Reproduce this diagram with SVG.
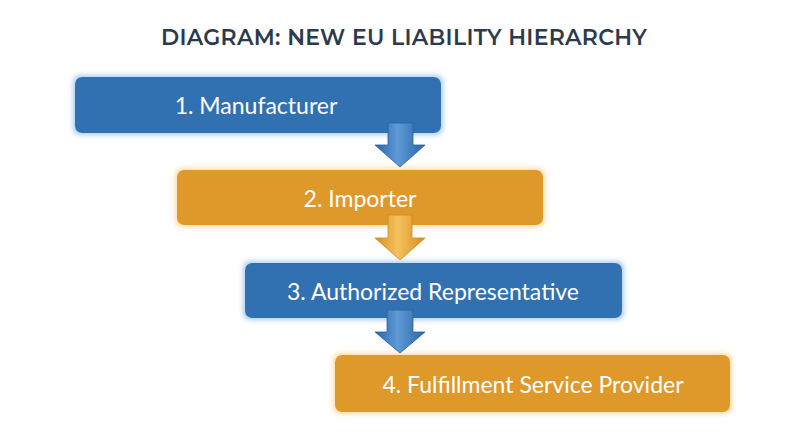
<svg xmlns="http://www.w3.org/2000/svg" width="800" height="447" viewBox="0 0 800 447">
  <defs>
    <filter id="glowBlue" x="-10%" y="-30%" width="120%" height="160%">
      <feMorphology in="SourceAlpha" operator="dilate" radius="2" result="d"/>
      <feGaussianBlur in="d" stdDeviation="2.5" result="b"/>
      <feFlood flood-color="#a9cdef"/>
      <feComposite in2="b" operator="in" result="g"/>
      <feMerge><feMergeNode in="g"/><feMergeNode in="SourceGraphic"/></feMerge>
    </filter>
    <filter id="glowOrange" x="-10%" y="-30%" width="120%" height="160%">
      <feMorphology in="SourceAlpha" operator="dilate" radius="2" result="d"/>
      <feGaussianBlur in="d" stdDeviation="2.5" result="b"/>
      <feFlood flood-color="#fbdca6"/>
      <feComposite in2="b" operator="in" result="g"/>
      <feMerge><feMergeNode in="g"/><feMergeNode in="SourceGraphic"/></feMerge>
    </filter>
    <linearGradient id="arrowBlue" x1="0" y1="0" x2="1" y2="0">
      <stop offset="0" stop-color="#2a65a8"/>
      <stop offset="0.45" stop-color="#5e9ad6"/>
      <stop offset="1" stop-color="#2a65a8"/>
    </linearGradient>
    <linearGradient id="arrowOrange" x1="0" y1="0" x2="1" y2="0">
      <stop offset="0" stop-color="#d98f1e"/>
      <stop offset="0.45" stop-color="#f5c15e"/>
      <stop offset="1" stop-color="#d98f1e"/>
    </linearGradient>
  </defs>
  <style>
    .title { font-family: "Montserrat", "Open Sans", "Liberation Sans", sans-serif; font-weight: 600; font-size: 22px; fill: #2d3a4b; letter-spacing: 0.3px; }
    .lbl { font-family: Lato, "Open Sans", "Liberation Sans", sans-serif; font-size: 23px; fill: #ffffff; }
    .blue { fill: #3271b1; }
    .orange { fill: #df9829; }
    .aBlue { fill: url(#arrowBlue); stroke: #2a5f9c; stroke-width: 0.8; }
    .aOrange { fill: url(#arrowOrange); stroke: #cf8a1c; stroke-width: 0.8; }
  </style>
  <rect width="800" height="447" fill="#ffffff"/>
  <text class="title" x="404" y="45" text-anchor="middle">DIAGRAM: NEW EU LIABILITY HIERARCHY</text>

  <g id="node1">
    <rect class="blue" x="75" y="77" width="366" height="56" rx="7" filter="url(#glowBlue)"/>
    <text class="lbl" x="256" y="105" text-anchor="middle" dominant-baseline="central">1. Manufacturer</text>
  </g>
  <g id="node2">
    <rect class="orange" x="177" y="170" width="366" height="55" rx="7" filter="url(#glowOrange)"/>
    <text class="lbl" x="360" y="198" text-anchor="middle" dominant-baseline="central">2. Importer</text>
  </g>
  <g id="node3">
    <rect class="blue" x="245" y="263" width="377" height="55" rx="7" filter="url(#glowBlue)"/>
    <text class="lbl" x="433" y="291" text-anchor="middle" dominant-baseline="central">3. Authorized Representative</text>
  </g>
  <g id="node4">
    <rect class="orange" x="335" y="355" width="395" height="57" rx="7" filter="url(#glowOrange)"/>
    <text class="lbl" x="533" y="384" text-anchor="middle" dominant-baseline="central">4. Fulfillment Service Provider</text>
  </g>

  <g id="connectors">
    <path class="aBlue" d="M388,123 H413 V145 H425 L400,167 L375,145 H388 Z"/>
    <path class="aOrange" d="M388,215 H412 V238 H425 L400,260 L375,238 H388 Z"/>
    <path class="aBlue" d="M387,310 H413 V332 H425 L400,353 L375,332 H387 Z"/>
  </g>
</svg>
